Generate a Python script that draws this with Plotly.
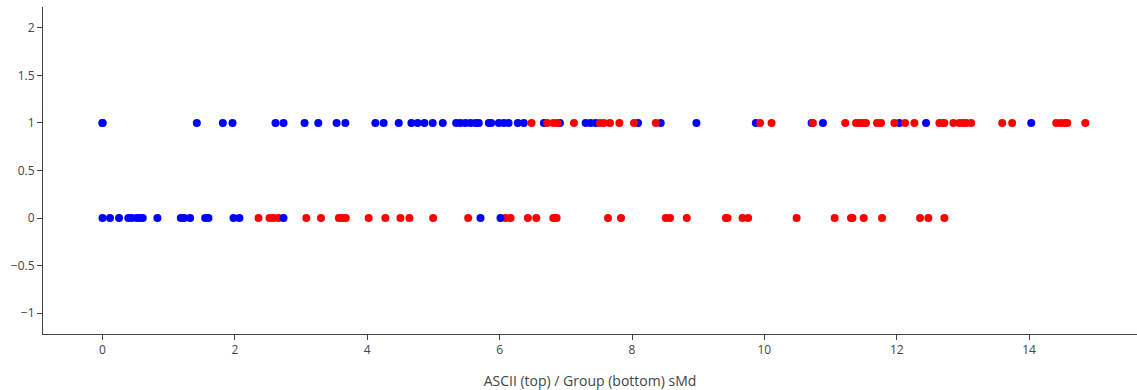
import plotly.graph_objects as go

# ASCII row (y = 1)
top_blue = [0.0, 0.0, 1.425, 1.818, 1.964, 2.614, 2.735, 3.053, 3.260, 3.537, 3.669, 4.123, 4.248,
            4.475, 4.667, 4.762, 4.864, 4.989, 5.141, 5.343, 5.408, 5.484, 5.560, 5.635, 5.685,
            5.837, 5.873, 5.988, 6.063, 6.135, 6.275, 6.366, 6.669, 6.911, 7.300, 7.375, 7.451,
            8.091, 8.434, 8.974, 9.871, 10.714, 10.885, 12.039, 12.443, 14.032]
top_red = [6.483, 6.720, 6.811, 6.871, 7.123, 7.516, 7.576, 7.667, 7.809, 8.030, 8.359, 9.936,
           10.109, 10.734, 11.222, 11.384, 11.434, 11.485, 11.535, 11.702, 11.762, 11.964, 12.126,
           12.266, 12.644, 12.696, 12.720, 12.856, 12.947, 12.998, 13.048, 13.124, 13.593, 13.744,
           14.410, 14.475, 14.535, 14.576, 14.849]
# Group row (y = 0)
bottom_blue = [0.0, 0.113, 0.250, 0.390, 0.442, 0.517, 0.567, 0.608, 0.829, 1.183, 1.233, 1.324,
               1.551, 1.601, 1.979, 2.069, 2.735, 5.711, 6.013]
bottom_red = [2.357, 2.523, 2.584, 2.660, 3.079, 3.301, 3.570, 3.623, 3.676, 4.021, 4.274, 4.501,
              4.637, 4.995, 5.525, 6.089, 6.165, 6.427, 6.554, 6.811, 6.861, 7.637, 7.834, 8.510,
              8.575, 8.828, 9.418, 9.443, 9.670, 9.755, 10.487, 11.062, 11.309, 11.331, 11.501,
              11.778, 12.352, 12.478, 12.720]

x_title = "ASCII (top) / Group (bottom) sMd"

fig = go.Figure()
for xs, yv, col in [(bottom_red, 0, "#ff0000"), (bottom_blue, 0, "#0000ff"),
                    (top_blue, 1, "#0000ff"), (top_red, 1, "#ff0000")]:
    fig.add_trace(go.Scatter(x=xs, y=[yv] * len(xs), mode="markers",
                             marker=dict(color=col, size=8), showlegend=False))

fig.update_layout(
    width=1137, height=390,
    margin=dict(l=43, r=0, t=7, b=56),
    paper_bgcolor="white", plot_bgcolor="white",
    font=dict(family="Open Sans, sans-serif", size=12, color="#444"),
)
fig.update_xaxes(range=[-0.899, 15.63], showgrid=False, zeroline=False, showline=True,
                 linecolor="#444", linewidth=1, ticks="outside", ticklen=5, tickcolor="#444",
                 dtick=2, title=dict(text=x_title, standoff=18))
fig.update_yaxes(range=[-1.22, 2.22], showgrid=False, zeroline=False, showline=True,
                 linecolor="#444", linewidth=1, ticks="outside", ticklen=5, tickcolor="#444",
                 dtick=0.5)

fig.write_html("out.html", config={"displayModeBar": False},
               post_script="document.body.style.margin='0';document.body.style.overflow='hidden';")
